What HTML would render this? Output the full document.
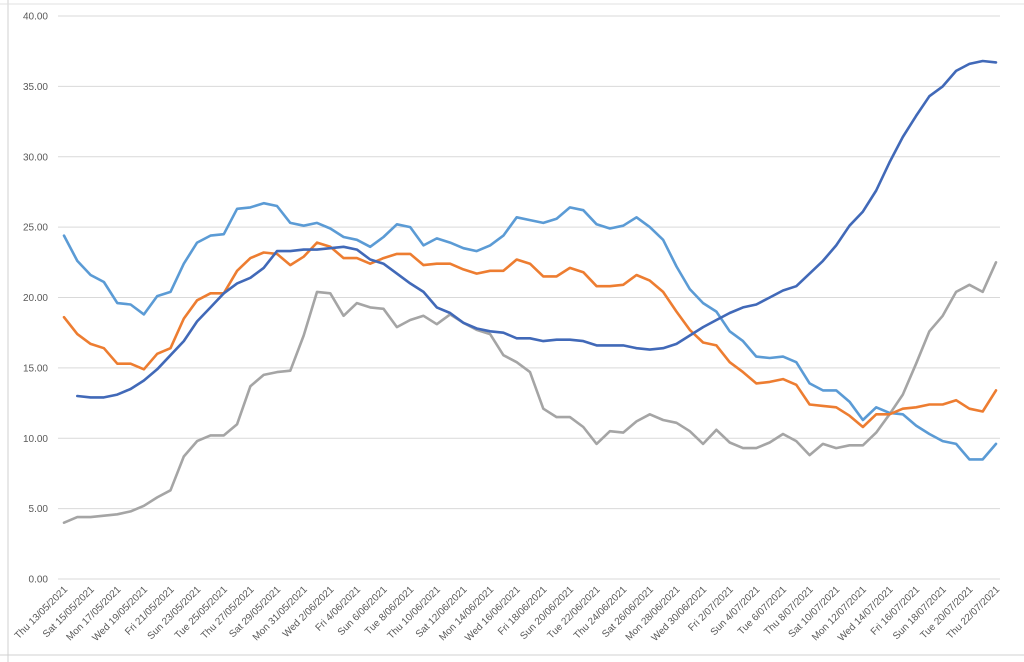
<!DOCTYPE html>
<html><head><meta charset="utf-8">
<style>
html,body{margin:0;padding:0;background:#fff;}
svg{display:block;font-family:"Liberation Sans",Arial,sans-serif;}
</style></head>
<body>
<svg id="chart" width="1024" height="662" viewBox="0 0 1024 662" xmlns="http://www.w3.org/2000/svg">
<rect x="0" y="0" width="1024" height="662" fill="#fff"/>
<line x1="8" y1="0" x2="8" y2="662" stroke="#d0d0d0"/>
<line x1="0" y1="4" x2="1024" y2="4" stroke="#e0e0e0"/>
<line x1="0" y1="655" x2="1024" y2="655" stroke="#d0d0d0"/>
<g id="grid"></g><g id="yticks"></g><g id="xticks"></g><g id="series"></g>
</svg>
<script>
const dates = ["Thu 13/05/2021","Fri 14/05/2021","Sat 15/05/2021","Sun 16/05/2021","Mon 17/05/2021","Tue 18/05/2021","Wed 19/05/2021","Thu 20/05/2021","Fri 21/05/2021","Sat 22/05/2021","Sun 23/05/2021","Mon 24/05/2021","Tue 25/05/2021","Wed 26/05/2021","Thu 27/05/2021","Fri 28/05/2021","Sat 29/05/2021","Sun 30/05/2021","Mon 31/05/2021","Tue 1/06/2021","Wed 2/06/2021","Thu 3/06/2021","Fri 4/06/2021","Sat 5/06/2021","Sun 6/06/2021","Mon 7/06/2021","Tue 8/06/2021","Wed 9/06/2021","Thu 10/06/2021","Fri 11/06/2021","Sat 12/06/2021","Sun 13/06/2021","Mon 14/06/2021","Tue 15/06/2021","Wed 16/06/2021","Thu 17/06/2021","Fri 18/06/2021","Sat 19/06/2021","Sun 20/06/2021","Mon 21/06/2021","Tue 22/06/2021","Wed 23/06/2021","Thu 24/06/2021","Fri 25/06/2021","Sat 26/06/2021","Sun 27/06/2021","Mon 28/06/2021","Tue 29/06/2021","Wed 30/06/2021","Thu 1/07/2021","Fri 2/07/2021","Sat 3/07/2021","Sun 4/07/2021","Mon 5/07/2021","Tue 6/07/2021","Wed 7/07/2021","Thu 8/07/2021","Fri 9/07/2021","Sat 10/07/2021","Sun 11/07/2021","Mon 12/07/2021","Tue 13/07/2021","Wed 14/07/2021","Thu 15/07/2021","Fri 16/07/2021","Sat 17/07/2021","Sun 18/07/2021","Mon 19/07/2021","Tue 20/07/2021","Wed 21/07/2021","Thu 22/07/2021"];
const yTicks = [0,5,10,15,20,25,30,35,40];
const lightBlue = [24.4,22.6,21.6,21.1,19.6,19.5,18.8,20.1,20.4,22.4,23.9,24.4,24.5,26.3,26.4,26.7,26.5,25.3,25.1,25.3,24.9,24.3,24.1,23.6,24.3,25.2,25.0,23.7,24.2,23.9,23.5,23.3,23.7,24.4,25.7,25.5,25.3,25.6,26.4,26.2,25.2,24.9,25.1,25.7,25.0,24.1,22.2,20.6,19.6,19.0,17.6,16.9,15.8,15.7,15.8,15.4,13.9,13.4,13.4,12.6,11.3,12.2,11.8,11.7,10.9,10.3,9.8,9.6,8.5,8.5,9.6];
const orange = [18.6,17.4,16.7,16.4,15.3,15.3,14.9,16.0,16.4,18.5,19.8,20.3,20.3,21.9,22.8,23.2,23.1,22.3,22.9,23.9,23.6,22.8,22.8,22.4,22.8,23.1,23.1,22.3,22.4,22.4,22.0,21.7,21.9,21.9,22.7,22.4,21.5,21.5,22.1,21.8,20.8,20.8,20.9,21.6,21.2,20.4,19.0,17.7,16.8,16.6,15.4,14.7,13.9,14.0,14.2,13.8,12.4,12.3,12.2,11.6,10.8,11.7,11.7,12.1,12.2,12.4,12.4,12.7,12.1,11.9,13.4];
const darkBlue = [null,13.0,12.9,12.9,13.1,13.5,14.1,14.9,15.9,16.9,18.3,19.3,20.3,21.0,21.4,22.1,23.3,23.3,23.4,23.4,23.5,23.6,23.4,22.7,22.4,21.7,21.0,20.4,19.3,18.9,18.2,17.8,17.6,17.5,17.1,17.1,16.9,17.0,17.0,16.9,16.6,16.6,16.6,16.4,16.3,16.4,16.7,17.3,17.9,18.4,18.9,19.3,19.5,20.0,20.5,20.8,21.7,22.6,23.7,25.1,26.1,27.6,29.6,31.4,32.9,34.3,35.0,36.1,36.6,36.8,36.7];
const gray = [4.0,4.4,4.4,4.5,4.6,4.8,5.2,5.8,6.3,8.7,9.8,10.2,10.2,11.0,13.7,14.5,14.7,14.8,17.3,20.4,20.3,18.7,19.6,19.3,19.2,17.9,18.4,18.7,18.1,18.8,18.2,17.7,17.4,15.9,15.4,14.7,12.1,11.5,11.5,10.8,9.6,10.5,10.4,11.2,11.7,11.3,11.1,10.5,9.6,10.6,9.7,9.3,9.3,9.7,10.3,9.8,8.8,9.6,9.3,9.5,9.5,10.4,11.7,13.1,15.3,17.6,18.7,20.4,20.9,20.4,22.5];

const NS="http://www.w3.org/2000/svg";
const X0=64, X1=996, Y0=579, Y1=16, YMAX=40;
function xs(i){return X0+(X1-X0)*i/(dates.length-1);}
function ys(v){return Y0-(Y0-Y1)*v/YMAX;}
function mk(tag,attrs,parent){const e=document.createElementNS(NS,tag);for(const k in attrs)e.setAttribute(k,attrs[k]);parent.appendChild(e);return e;}

const grid=document.getElementById('grid'), yt=document.getElementById('yticks'), xt=document.getElementById('xticks'), sg=document.getElementById('series');
yTicks.forEach(v=>{
  const l=mk('line',{x1:58,x2:1000,y1:ys(v),y2:ys(v),stroke:'#d9d9d9','stroke-width':1},grid);
  
  
  const t=mk('text',{x:48,y:ys(v)+3.5,'text-anchor':'end','font-size':10,fill:'#595959'},yt);
  t.textContent=v.toFixed(2);
  
  
});
dates.forEach((d,i)=>{
  if(i%2)return;
  const x=xs(i)+4, y=590;
  const t=mk('text',{x:x,y:y,'text-anchor':'end','font-size':10,fill:'#595959',transform:`rotate(-45 ${x} ${y})`},xt);
  t.textContent=d;
  
  
});
function drawLine(arr,color,name){
  let d='';let pen=false;
  arr.forEach((v,i)=>{if(v==null){pen=false;return;}d+=(pen?'L':'M')+xs(i).toFixed(1)+' '+ys(v).toFixed(1)+' ';pen=true;});
  const p=mk('path',{d:d,fill:'none',stroke:color,'stroke-width':2.6,'stroke-linejoin':'round','stroke-linecap':'round'},sg);
  
  
}
drawLine(gray,'#a5a5a5','series-gray-line');
drawLine(lightBlue,'#5b9bd5','series-light-blue-line');
drawLine(orange,'#ed7d31','series-orange-line');
drawLine(darkBlue,'#4169b8','series-dark-blue-line');
</script>
</body></html>
